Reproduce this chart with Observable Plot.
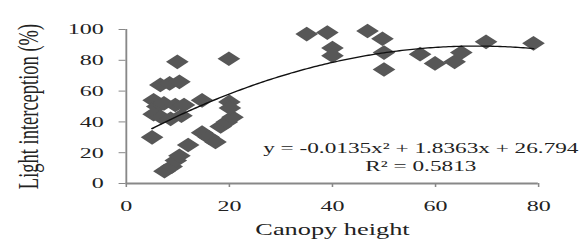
<!DOCTYPE html>
<html><head><meta charset="utf-8">
<script src="https://cdn.jsdelivr.net/npm/d3@7"></script>
<script src="https://cdn.jsdelivr.net/npm/@observablehq/plot@0.6"></script>
<style>
body{margin:0;background:#fff;overflow:hidden}
#chart svg{transform-origin:0 0;transform:scaleX(1.55);}
#chart svg text{font-family:"Liberation Serif","Times New Roman",serif;}
</style>
</head><body><div id="chart"></div>
<script>
const canopyHeight = [5.0, 5.3, 6.0, 5.3, 6.8, 7.3, 8.6, 9.5, 10.7, 11.2, 6.6, 8.4, 10.3, 9.9, 7.4, 8.8, 9.6, 10.3, 12.0, 14.7, 14.7, 16.0, 17.3, 18.3, 19.5, 20.6, 19.9, 20.0, 20.1,
  35.0, 39.0, 40.0, 40.0, 46.8, 49.7, 50.0, 50.0, 57.0, 59.9, 63.7, 65.0, 69.8, 79.0];
const lightInterception = [30, 54, 50, 45, 43, 52, 42, 51, 44, 51, 64, 65, 66, 79, 8, 11, 15, 18, 25, 54, 33, 30, 27, 37, 40, 43, 81, 53, 49,
  97, 98, 88, 83, 99, 94, 85, 74, 84, 78, 79, 85, 92, 91];
const xTicks = [0, 20, 40, 60, 80];
const yTicks = [0, 20, 40, 60, 80, 100];
const coefA = -0.0135, coefB = 1.8363, coefC = 26.794;
const trendStart = 5, trendEnd = 79;
const equationLabel = "y = -0.0135x² + 1.8363x + 26.794";
const r2Label = "R² = 0.5813";
const xTitle = "Canopy height";
const yTitle = "Light interception (%)";

const points = canopyHeight.map((x, i) => ({x, y: lightInterception[i]}));
const trend = d3.range(trendStart, trendEnd + 0.01, 0.5).map(x => ({x, y: coefA * x * x + coefB * x + coefC}));
const font = "Liberation Serif";
const ink = "#222";

const chart = Plot.plot({
  width: 375, height: 243,
  marginLeft: 81, marginRight: 28, marginTop: 29, marginBottom: 60,
  x: {domain: [0, 80]},
  y: {domain: [0, 100]},
  style: "font-family: 'Liberation Serif', serif; font-size: 15.5px; color: #222; background: white; overflow: visible;",
  marks: [
    Plot.axisX(xTicks, {tickSize: 4, tickPadding: 12, stroke: "#888", fill: ink, label: null, fontSize: 15.5, fontFamily: font}),
    Plot.axisY(yTicks, {tickSize: 4.5, tickPadding: 10, stroke: "#888", fill: ink, label: null, fontSize: 15.5, fontFamily: font}),
    Plot.ruleY([0], {stroke: "#888", strokeWidth: 1.8}),
    Plot.ruleX([0], {stroke: "#888", strokeWidth: 1.2}),
    Plot.dot(points, {x: "x", y: "y", symbol: "diamond2", r: 6.6, fill: "#575757", stroke: "none"}),
    Plot.line(trend, {x: "x", y: "y", stroke: "#111", strokeWidth: 1.3}),
    Plot.text([equationLabel], {frameAnchor: "bottom", dx: 57, dy: -30.5, fontSize: 15, fill: ink, fontFamily: font}),
    Plot.text([r2Label], {frameAnchor: "bottom", dx: 57, dy: -12.5, fontSize: 15, fill: ink, fontFamily: font}),
    Plot.text([xTitle], {frameAnchor: "bottom", dy: 51, fontSize: 17, fill: ink, fontFamily: font}),
    Plot.text([yTitle], {frameAnchor: "left", textAnchor: "middle", dx: -63, rotate: -90, fontSize: 18.5, fill: ink, fontFamily: font})
  ]
});
document.getElementById("chart").appendChild(chart);
</script>
</body></html>
